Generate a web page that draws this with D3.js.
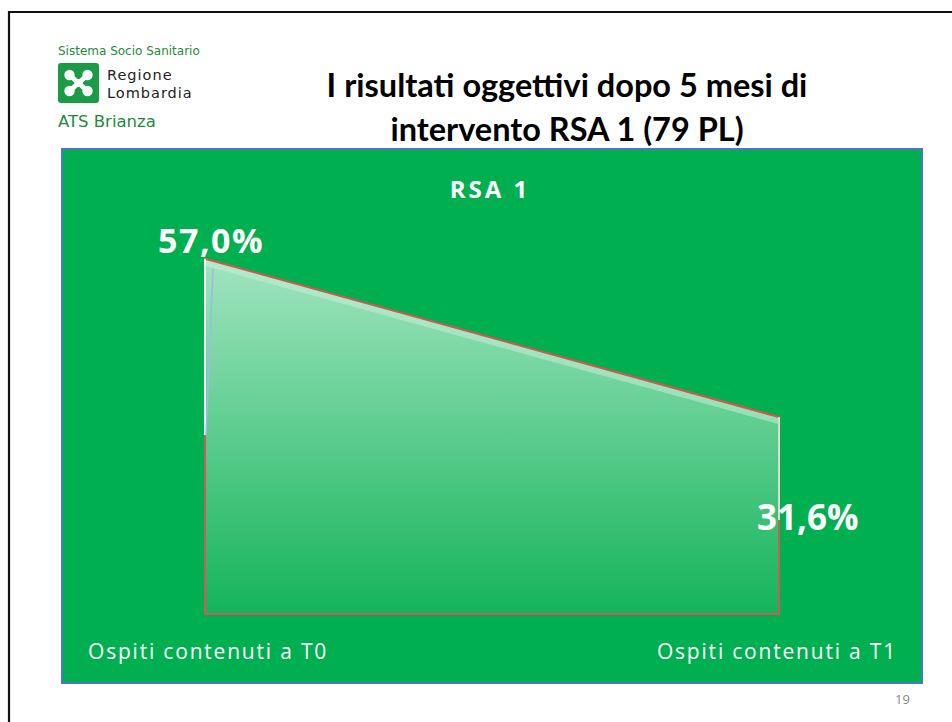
<!DOCTYPE html>
<html><head><meta charset="utf-8">
<script src="https://cdn.jsdelivr.net/npm/d3@7"></script>
<style>body{margin:0;background:#fff}svg{display:block}</style>
</head><body>
<svg id="c" width="952" height="722"></svg>
<script>
const categories = ["Ospiti contenuti a T0", "Ospiti contenuti a T1"];
const values = [57.0, 31.6];
const valueLabels = ["57,0%", "31,6%"];
const chartTitle = "RSA 1";
const slideTitle = ["I risultati oggettivi dopo 5 mesi di", "intervento RSA 1 (79 PL)"];

const svg = d3.select("#c");
// slide frame
svg.append("path").attr("d","M9,722 V12 H952").attr("fill","none").attr("stroke","#111").attr("stroke-width",2.2);

// logo
svg.append("text").attr("x",58).attr("y",55).text("Sistema Socio Sanitario")
  .attr("font-family","DejaVu Sans").attr("font-size",12).attr("fill","#1e8a3c");
svg.append("rect").attr("x",58).attr("y",63).attr("width",41).attr("height",40).attr("rx",3).attr("fill","#1a9b45");
const lg = svg.append("g").attr("transform","translate(78.5,83)").attr("fill","#fff");
[[-9,-8],[9,-8],[-9,8],[9,8]].forEach(([dx,dy])=>{
  lg.append("circle").attr("cx",dx).attr("cy",dy).attr("r",5.2);
  lg.append("line").attr("x1",0).attr("y1",0).attr("x2",dx).attr("y2",dy).attr("stroke","#fff").attr("stroke-width",5);
});
lg.append("circle").attr("r",4).attr("fill","#fff");
svg.append("text").attr("x",107).attr("y",80).text("Regione").attr("font-family","DejaVu Sans").attr("font-size",14.5).attr("letter-spacing",1).attr("fill","#222");
svg.append("text").attr("x",107).attr("y",98).text("Lombardia").attr("font-family","DejaVu Sans").attr("font-size",14.5).attr("letter-spacing",1).attr("fill","#222");
svg.append("text").attr("x",58).attr("y",127).text("ATS Brianza").attr("font-family","DejaVu Sans").attr("font-size",16.5).attr("fill","#1e8a3c");

// slide title
slideTitle.forEach((t,i)=>svg.append("text").attr("x",567).attr("y",[97,141][i]).attr("text-anchor","middle")
  .attr("font-family","Lato").attr("font-weight","bold").attr("font-size",32.5).attr("fill","#000").text(t));

// chart area
svg.append("rect").attr("x",62).attr("y",149).attr("width",860).attr("height",534)
  .attr("fill","#00B050").attr("stroke","#4A78C8").attr("stroke-width",2);

svg.append("text").attr("x",490).attr("y",198).attr("text-anchor","middle").text(chartTitle)
  .attr("font-family","Open Sans").attr("font-weight","bold").attr("font-size",24).attr("letter-spacing",3).attr("fill","#fff");

const x = d3.scalePoint().domain(categories).range([205,779]);
const y = d3.scaleLinear().domain([0,60]).range([614,240]);
const data = categories.map((c,i)=>({c, v:values[i]}));

const defs = svg.append("defs");
const gr = defs.append("linearGradient").attr("id","g").attr("x1",0).attr("y1",0).attr("x2",0).attr("y2",1);
gr.append("stop").attr("offset","0").attr("stop-color","#a2e4c0");
gr.append("stop").attr("offset","1").attr("stop-color","#14b45a");

const area = d3.area().x(d=>x(d.c)).y0(y(0)).y1(d=>y(d.v));
svg.append("path").datum(data).attr("d",area).attr("fill","url(#g)");
// highlight band along top
const topLine = d3.line().x(d=>x(d.c)).y(d=>y(d.v));
svg.append("path").datum(data).attr("d",topLine).attr("transform","translate(0,4)")
  .attr("fill","none").attr("stroke","#c2eed5").attr("stroke-width",6).attr("opacity",0.55);
// red outline
svg.append("path").datum(data).attr("d",topLine).attr("fill","none").attr("stroke","#d9534f").attr("stroke-width",2);
svg.append("path").attr("d",`M${x(categories[0])},${y(0)} H${x(categories[1])} V${y(values[1])}`)
  .attr("fill","none").attr("stroke","#d05a5a").attr("stroke-width",2);
svg.append("line").attr("x1",x(categories[0])).attr("x2",x(categories[0])).attr("y1",y(values[0])).attr("y2",y(0))
  .attr("stroke","#d05a5a").attr("stroke-width",2);
// white edges
svg.append("line").attr("x1",x(categories[0])).attr("x2",x(categories[0])).attr("y1",y(values[0])).attr("y2",435)
  .attr("stroke","#f4fff8").attr("stroke-width",2);
svg.append("line").attr("x1",x(categories[1])).attr("x2",x(categories[1])).attr("y1",y(values[1])).attr("y2",520)
  .attr("stroke","#f4fff8").attr("stroke-width",1.5);
svg.append("line").attr("x1",x(categories[0])+8).attr("y1",y(values[0])+10).attr("x2",x(categories[0])+1).attr("y2",435)
  .attr("stroke","#a3b8e8").attr("stroke-width",1.5);

// value labels
svg.append("text").attr("x",x(categories[0])-47).attr("y",y(values[0])-6).text(valueLabels[0])
  .attr("font-family","Open Sans").attr("font-weight","bold").attr("font-size",34).attr("letter-spacing",1.5).attr("fill","#fff");
svg.append("text").attr("x",x(categories[1])-22).attr("y",y(values[1])+113).text(valueLabels[1])
  .attr("font-family","Open Sans").attr("font-weight","bold").attr("font-size",35).attr("fill","#fff");

// category labels
svg.append("text").attr("x",88).attr("y",659).text(categories[0]).attr("font-family","Open Sans").attr("font-size",21).attr("letter-spacing",1.8).attr("fill","#fff");
svg.append("text").attr("x",897).attr("y",659).attr("text-anchor","end").text(categories[1]).attr("font-family","Open Sans").attr("font-size",21).attr("letter-spacing",1.8).attr("fill","#fff");

svg.append("text").attr("x",895).attr("y",704).text("19").attr("font-family","Open Sans").attr("font-size",13).attr("fill","#888");
</script>
</body></html>
